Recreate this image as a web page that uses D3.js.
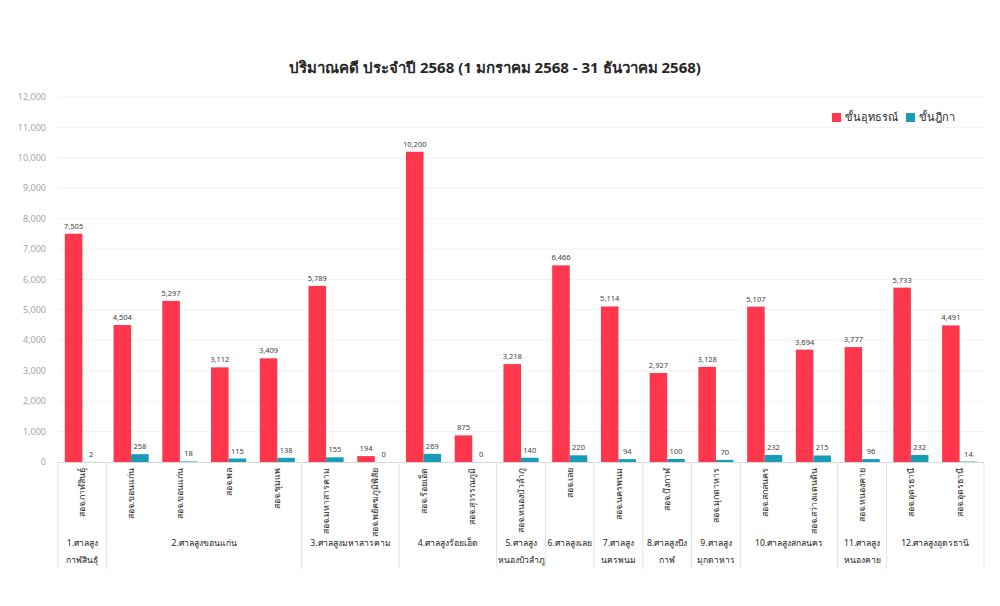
<!DOCTYPE html>
<html><head><meta charset="utf-8">
<script src="https://cdn.jsdelivr.net/npm/d3@7/dist/d3.min.js"></script>
<style>
html,body{margin:0;padding:0;background:#fff;}
svg text{font-family:"Noto Sans","DejaVu Sans",sans-serif;}
</style></head>
<body><svg id="c" width="1000" height="606"></svg>
<script>
const categories = ["สอจ.กาฬสินธุ์","สอจ.ขอนแก่น","สอจ.ขอนแก่น","สอจ.พล","สอจ.ชุมแพ","สอจ.มหาสารคาม","สอจ.พยัคฆภูมิพิสัย","สอจ.ร้อยเอ็ด","สอจ.สุวรรณภูมิ","สอจ.หนองบัวลำภู","สอจ.เลย","สอจ.นครพนม","สอจ.บึงกาฬ","สอจ.มุกดาหาร","สอจ.สกลนคร","สอจ.สว่างแดนดิน","สอจ.หนองคาย","สอจ.อุดรธานี","สอจ.อุดรธานี"];
const appeal = [7505,4504,5297,3112,3409,5789,194,10200,875,3218,6466,5114,2927,3128,5107,3694,3777,5733,4491];
const supreme = [2,258,18,115,138,155,0,269,0,140,220,94,100,70,232,215,96,232,14];
const groupNames = [["1.ศาลสูง","กาฬสินธุ์"],["2.ศาลสูงขอนแก่น"],["3.ศาลสูงมหาสารคาม"],["4.ศาลสูงร้อยเอ็ด"],["5.ศาลสูง","หนองบัวลำภู"],["6.ศาลสูงเลย"],["7.ศาลสูง","นครพนม"],["8.ศาลสูงบึง","กาฬ"],["9.ศาลสูง","มุกดาหาร"],["10.ศาลสูงสกลนคร"],["11.ศาลสูง","หนองคาย"],["12.ศาลสูงอุดรธานี"]];
const groupSizes = [1,4,2,2,1,1,1,1,1,2,1,2];
const seriesNames = ["ขั้นอุทธรณ์","ขั้นฎีกา"];
const colors = ["#FF374D","#1A9CB7"];
const yTicks = [0,1000,2000,3000,4000,5000,6000,7000,8000,9000,10000,11000,12000];
const title = "ปริมาณคดี ประจำปี 2568 (1 มกราคม 2568 - 31 ธันวาคม 2568)";

const svg = d3.select("#c");
const idx = categories.map((d,i)=>i);
const xc = d3.scaleBand().domain(idx).range([58,984]).padding(0);
const x0 = d3.scaleBand().domain(idx).range([58,984]).paddingInner(0.28).paddingOuter(0.14);
const x1 = d3.scaleBand().domain([0,1]).range([0,x0.bandwidth()]);
const y = d3.scaleLinear().domain([0,12000]).range([462,97]);

// grid
svg.append("g").selectAll("line").data(yTicks.slice(1)).join("line")
  .attr("x1",58).attr("x2",984).attr("y1",d=>y(d)).attr("y2",d=>y(d))
  .attr("stroke","#f2f2f2").attr("stroke-width",1);
// y axis labels
svg.append("g").selectAll("text").data(yTicks).join("text")
  .attr("x",46).attr("y",d=>y(d)).attr("dy","0.35em").attr("text-anchor","end")
  .attr("font-size",9).attr("fill","#a6a6a6").text(d=>d3.format(",")(d));

// bars
const series = [appeal,supreme];
series.forEach((vals,s)=>{
  const g = svg.append("g");
  g.selectAll("rect").data(vals).join("rect")
    .attr("x",(d,i)=>x0(i)+x1(s)).attr("width",x1.bandwidth())
    .attr("y",d=>y(d)).attr("height",d=>y(0)-y(d)).attr("fill",colors[s]);
  g.selectAll("text").data(vals).join("text")
    .attr("x",(d,i)=>x0(i)+x1(s)+x1.bandwidth()/2).attr("y",d=>y(d)-5)
    .attr("text-anchor","middle").attr("font-size",7.5).attr("fill","#404040")
    .text(d=>d3.format(",")(d));
});

// x axis line
svg.append("line").attr("x1",58).attr("x2",984).attr("y1",y(0)+0.5).attr("y2",y(0)+0.5)
  .attr("stroke","#d9d9d9");

// category labels
svg.append("g").selectAll("text").data(categories).join("text")
  .attr("transform",(d,i)=>`translate(${xc(i)+xc.bandwidth()/2},468) rotate(-90)`)
  .attr("text-anchor","end").attr("dy","0.35em").attr("font-size",8.8).attr("fill","#262626")
  .text(d=>d);

// group separators and labels
let start = 0;
const bounds = [0];
groupSizes.forEach(n=>{start+=n;bounds.push(start);});
svg.append("g").selectAll("line").data(bounds).join("line")
  .attr("x1",d=>d<categories.length?xc(d):xc.range()[1]).attr("x2",d=>d<categories.length?xc(d):xc.range()[1])
  .attr("y1",462).attr("y2",569).attr("stroke","#e3e3e3");
const gl = svg.append("g");
groupSizes.forEach((n,gi)=>{
  const a = xc(bounds[gi]);
  const b = bounds[gi+1]<categories.length?xc(bounds[gi+1]):xc.range()[1];
  const t = gl.append("text").attr("x",(a+b)/2).attr("y",543).attr("dy","0.35em")
    .attr("text-anchor","middle").attr("font-size",8.6).attr("fill","#262626");
  groupNames[gi].forEach((line,li)=>{
    t.append("tspan").attr("x",(a+b)/2).attr("y",543+li*17).attr("dy","0.35em").text(line);
  });
});

// title
svg.append("text").attr("x",495).attr("y",68).attr("dy","0.35em").attr("text-anchor","middle")
  .attr("font-size",15).attr("font-weight","bold").attr("fill","#262626").text(title);

// legend
const lg = svg.append("g");
const lx = [832,906];
seriesNames.forEach((n,i)=>{
  lg.append("rect").attr("x",lx[i]).attr("y",113).attr("width",9).attr("height",9).attr("fill",colors[i]);
  lg.append("text").attr("x",lx[i]+13).attr("y",117.5).attr("dy","0.35em").attr("font-size",11)
    .attr("fill","#262626").text(n);
});
</script></body></html>
